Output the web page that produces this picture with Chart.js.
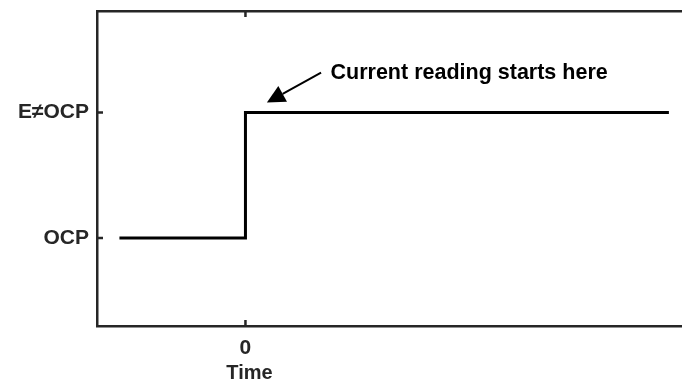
<!DOCTYPE html>
<html>
<head>
<meta charset="utf-8">
<script src="https://cdn.jsdelivr.net/npm/chart.js@4/dist/chart.umd.min.js"></script>
<style>
html,body{margin:0;padding:0;background:#fff;}
#wrap{width:682px;height:387px;}
</style>
</head>
<body>
<div id="wrap"><canvas id="c" width="682" height="387"></canvas></div>
<script>
// ---- data ----
const timeValues = [-1, 0, 0, 3.36];
const potentialValues = [0, 0, 1, 1];
const xTickValues = [0];
const xTickLabels = ['0'];
const yTickValues = [0, 1];
const yTickLabels = ['OCP', 'E\u2260OCP'];
const xTitle = 'Time';
const annotationText = 'Current reading starts here';

// ---- styling / layout ----
const AXIS_COLOR = '#262626';
const FONT_FAMILY = '"Liberation Sans", Arial, Helvetica, sans-serif';
const annotation = { textX: 0.675, textY: 1.313, tailX: 0.60, tailY: 1.317, tipX: 0.17, tipY: 1.08 };

const points = timeValues.map((t, i) => ({ x: t, y: potentialValues[i] }));

const noPad = s => { s.paddingTop = 0; s.paddingBottom = 0; s.paddingLeft = 0; s.paddingRight = 0; };

const decor = {
  id: 'decor',
  afterDraw(chart) {
    const ctx = chart.ctx;
    const xs = chart.scales.x, ys = chart.scales.y;
    const area = chart.chartArea;
    ctx.save();
    // inward tick marks
    ctx.strokeStyle = AXIS_COLOR;
    ctx.lineWidth = 2.5;
    ctx.beginPath();
    yTickValues.forEach(v => {
      const py = ys.getPixelForValue(v);
      ctx.moveTo(area.left, py); ctx.lineTo(area.left + 6, py);
    });
    xTickValues.forEach(v => {
      const px = xs.getPixelForValue(v);
      ctx.moveTo(px, area.bottom); ctx.lineTo(px, area.bottom - 6);
      ctx.moveTo(px, area.top); ctx.lineTo(px, area.top + 6);
    });
    ctx.stroke();

    // x axis title
    ctx.fillStyle = AXIS_COLOR;
    ctx.font = 'bold 20px ' + FONT_FAMILY;
    ctx.textAlign = 'center';
    ctx.textBaseline = 'middle';
    ctx.fillText(xTitle, xs.getPixelForValue(0) + 4, 373);

    // annotation arrow
    const tx = xs.getPixelForValue(annotation.tailX), ty = ys.getPixelForValue(annotation.tailY);
    const hx = xs.getPixelForValue(annotation.tipX), hy = ys.getPixelForValue(annotation.tipY);
    const dx = hx - tx, dy = hy - ty, len = Math.hypot(dx, dy);
    const ux = dx / len, uy = dy / len;
    const L = 18, W = 9;
    const bx = hx - ux * L, by = hy - uy * L;
    ctx.strokeStyle = '#000';
    ctx.lineWidth = 2;
    ctx.beginPath();
    ctx.moveTo(tx, ty); ctx.lineTo(bx, by);
    ctx.stroke();
    ctx.fillStyle = '#000';
    ctx.beginPath();
    ctx.moveTo(hx, hy);
    ctx.lineTo(bx - uy * W, by + ux * W);
    ctx.lineTo(bx + uy * W, by - ux * W);
    ctx.closePath();
    ctx.fill();

    // annotation text
    ctx.font = 'bold 21.5px ' + FONT_FAMILY;
    ctx.textAlign = 'left';
    ctx.textBaseline = 'middle';
    ctx.fillText(annotationText, xs.getPixelForValue(annotation.textX), ys.getPixelForValue(annotation.textY));
    ctx.restore();
  }
};

new Chart(document.getElementById('c'), {
  type: 'line',
  data: {
    datasets: [{
      data: points,
      borderColor: '#000',
      borderWidth: 3,
      pointRadius: 0,
      tension: 0,
      fill: false
    }]
  },
  options: {
    responsive: false,
    animation: false,
    layout: { padding: 0 },
    plugins: { legend: { display: false }, tooltip: { enabled: false } },
    scales: {
      x: {
        type: 'linear',
        position: 'bottom',
        min: -1.178,
        max: 3.464,
        afterBuildTicks: s => { s.ticks = xTickValues.map(v => ({ value: v })); },
        afterFit: s => { s.height = 61; noPad(s); },
        ticks: {
          callback: (v, i) => xTickLabels[i],
          color: AXIS_COLOR,
          font: { family: FONT_FAMILY, size: 21, weight: 'bold' },
          padding: 10,
          maxRotation: 0
        },
        grid: { drawOnChartArea: false, drawTicks: false },
        border: { display: true, color: AXIS_COLOR, width: 2.5 }
      },
      x2: {
        type: 'linear',
        position: 'top',
        min: -1.178,
        max: 3.464,
        afterFit: s => { s.height = 11; noPad(s); },
        ticks: { display: false },
        grid: { drawOnChartArea: false, drawTicks: false },
        border: { display: true, color: AXIS_COLOR, width: 2.5 }
      },
      y: {
        type: 'linear',
        position: 'left',
        min: -0.701,
        max: 1.809,
        afterBuildTicks: s => { s.ticks = yTickValues.map(v => ({ value: v })); },
        afterFit: s => { s.width = 97; noPad(s); },
        ticks: {
          callback: (v, i) => yTickLabels[i],
          color: AXIS_COLOR,
          font: { family: FONT_FAMILY, size: 21, weight: 'bold' },
          padding: 8
        },
        grid: { drawOnChartArea: false, drawTicks: false },
        border: { display: true, color: AXIS_COLOR, width: 2.5 }
      }
    }
  },
  plugins: [decor]
});
</script>
</body>
</html>
